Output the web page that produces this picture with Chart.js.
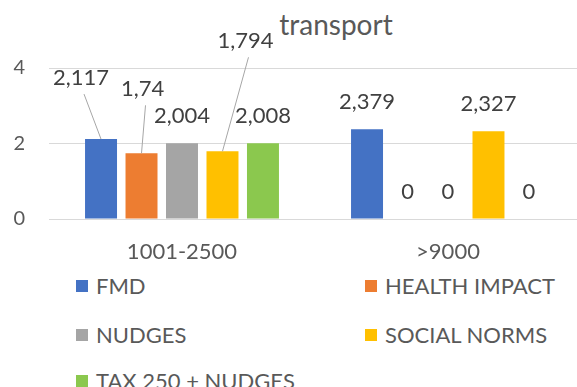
<!DOCTYPE html>
<html lang="en">
<head>
<meta charset="UTF-8">
<title>transport</title>
<script src="https://cdn.jsdelivr.net/npm/chart.js"></script>
<style>
    html, body { margin: 0; padding: 0; background: #fff; overflow: hidden; }
    body { width: 577px; height: 387px; position: relative; font-family: Lato, sans-serif; color: #595959; }
    #chartBox { position: absolute; left: 0; top: 0; width: 583px; height: 270px; }
    #title { position: absolute; left: 236px; top: 10px; width: 200px; text-align: center; font-size: 28px; line-height: 28px; }
    .legend-item { position: absolute; height: 20px; line-height: 20px; font-size: 22px; display: flex; align-items: center; white-space: nowrap; }
    .legend-item .box { width: 12px; height: 12px; margin-right: 8px; }
</style>
</head>
<body>
<div id="title">transport</div>
<div id="chartBox"><canvas id="chart"></canvas></div>
<div id="legend"></div>

<script>
    const categories = ['1001-2500', '>9000'];
    const seriesNames = ['FMD', 'HEALTH IMPACT', 'NUDGES', 'SOCIAL NORMS', 'TAX 250 + NUDGES'];
    const fmd = [2.117, 2.379];
    const healthImpact = [1.74, 0];
    const nudges = [2.004, 0];
    const socialNorms = [1.794, 2.327];
    const tax250Nudges = [2.008, 0];
    const yTicks = [0, 2, 4];

    const colors = ['#4472c4', '#ed7d31', '#a5a5a5', '#ffc000', '#8bc84e'];

    // labels that were dragged away from their bars: [dx, dy] per series / category
    const labelShift = [
        [[-20, -34], [0, 0]],
        [[1, -37], [0, 0]],
        [[0, 0], [0, 0]],
        [[23, -83], [0, 0]],
        [[0, 0], [0, 0]]
    ];

    // legend slots: [left, centre y]
    const legendSlots = [[76, 286], [365, 286], [76, 335], [365, 335], [76, 381]];

    const barLabels = {
        id: 'barLabels',
        afterDatasetsDraw(chart) {
            const ctx = chart.ctx;
            ctx.save();
            ctx.font = '22px Lato';
            ctx.textAlign = 'center';
            ctx.textBaseline = 'middle';
            chart.data.datasets.forEach((ds, i) => {
                chart.getDatasetMeta(i).data.forEach((bar, j) => {
                    const shift = labelShift[i][j];
                    const x = bar.x + shift[0];
                    const y = bar.y - 27 + shift[1];
                    if (shift[0] || shift[1]) {
                        ctx.strokeStyle = '#a6a6a6';
                        ctx.lineWidth = 1;
                        ctx.beginPath();
                        ctx.moveTo(x + 3, y + 16);
                        ctx.lineTo(bar.x, bar.y);
                        ctx.stroke();
                    }
                    ctx.fillStyle = '#404040';
                    ctx.fillText(String(ds.data[j]).replace('.', ','), x, y);
                });
            });
            ctx.restore();
        }
    };

    function buildLegend() {
        const box = document.getElementById('legend');
        seriesNames.forEach((name, i) => {
            const item = document.createElement('div');
            item.className = 'legend-item';
            item.style.left = legendSlots[i][0] + 'px';
            item.style.top = (legendSlots[i][1] - 10) + 'px';
            item.innerHTML = '<span class="box" style="background:' + colors[i] + '"></span>' + name.replace(/&/g, '&amp;');
            box.appendChild(item);
        });
    }

    function drawChart() {
        const values = [fmd, healthImpact, nudges, socialNorms, tax250Nudges];
        new Chart(document.getElementById('chart'), {
            type: 'bar',
            data: {
                labels: categories,
                datasets: seriesNames.map((name, i) => ({
                    label: name,
                    data: values[i],
                    backgroundColor: colors[i],
                    categoryPercentage: 0.761,
                    barPercentage: 0.79
                }))
            },
            options: {
                responsive: true,
                maintainAspectRatio: false,
                animation: false,
                layout: { padding: { top: 68, right: 2, left: 0, bottom: 0 } },
                plugins: {
                    legend: { display: false },
                    tooltip: { enabled: false }
                },
                scales: {
                    x: {
                        grid: { display: false, drawTicks: false },
                        border: { display: false },
                        ticks: { color: '#595959', font: { family: 'Lato', size: 22 }, padding: 20 },
                        afterFit(scale) { scale.height = 51; }
                    },
                    y: {
                        min: yTicks[0],
                        max: yTicks[yTicks.length - 1],
                        afterBuildTicks(scale) { scale.ticks = yTicks.map(v => ({ value: v })); },
                        grid: { color: '#d9d9d9', drawTicks: false },
                        border: { display: false },
                        ticks: { color: '#595959', font: { family: 'Lato', size: 20 }, padding: 24 },
                        afterFit(scale) { scale.width = 49; }
                    }
                }
            },
            plugins: [barLabels]
        });
    }

    window.onload = function () {
        buildLegend();
        document.fonts.load('22px Lato').then(drawChart, drawChart);
    };
</script>
</body>
</html>
